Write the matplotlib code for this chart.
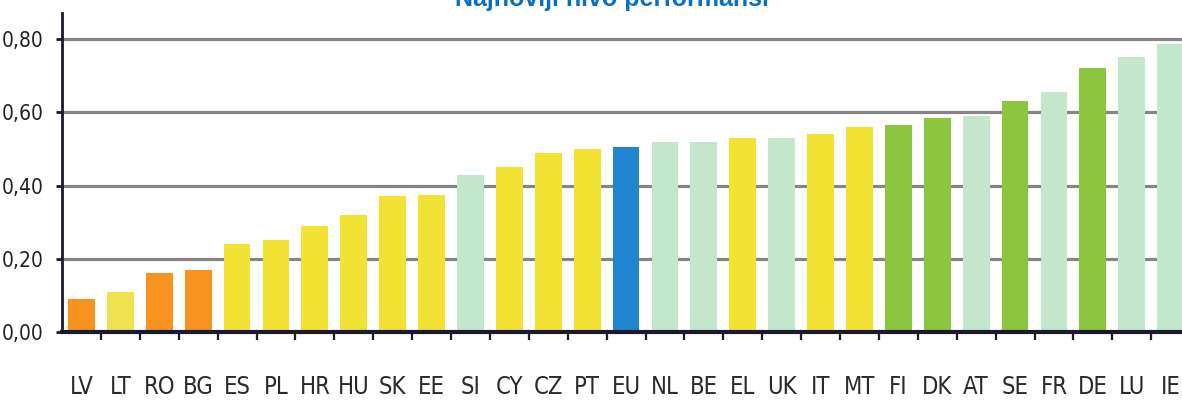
import matplotlib.pyplot as plt
import numpy as np
from matplotlib.ticker import FixedLocator, FuncFormatter

countries = ['LV', 'LT', 'RO', 'BG', 'ES', 'PL', 'HR', 'HU', 'SK', 'EE',
             'SI', 'CY', 'CZ', 'PT', 'EU', 'NL', 'BE', 'EL', 'UK', 'IT',
             'MT', 'FI', 'DK', 'AT', 'SE', 'FR', 'DE', 'LU', 'IE']
scores = [0.09, 0.11, 0.16, 0.17, 0.24, 0.25, 0.29, 0.32, 0.37, 0.375,
          0.43, 0.45, 0.49, 0.50, 0.505, 0.52, 0.52, 0.53, 0.53, 0.54,
          0.56, 0.565, 0.585, 0.59, 0.63, 0.655, 0.72, 0.75, 0.785]
# performance group of each country
groups = ['low', 'mid', 'low', 'low', 'mid', 'mid', 'mid', 'mid', 'mid', 'mid',
          'pale', 'mid', 'mid', 'mid', 'eu', 'pale', 'pale', 'mid', 'pale', 'mid',
          'mid', 'high', 'high', 'pale', 'high', 'pale', 'high', 'pale', 'pale']
yticks = [0.0, 0.2, 0.4, 0.6, 0.8]
title = 'Najnoviji nivo performansi'

group_colors = {'low': '#F7931E', 'mid': '#F2E233', 'pale': '#C4E6CC',
                'eu': '#1F86CF', 'high': '#8CC63F'}
bar_colors = [group_colors[g] for g in groups]
bar_colors[1] = '#EEE24E'  # LT a bit paler

plt.rcParams['font.family'] = ['DejaVu Sans']
plt.rcParams['font.stretch'] = 'condensed'

fig = plt.figure(figsize=(11.82, 4.03), dpi=100)
ax = fig.add_axes([62 / 1182, 1 - 332 / 403, 1 - 62 / 1182, (332 - 13) / 403])

x = np.arange(len(countries))
ax.bar(x, scores, width=0.69, color=bar_colors, zorder=3)

ax.set_xlim(-0.5, -0.5 + (1182 - 62) / 38.9)
ax.set_ylim(0, 0.871)

for yv in yticks[1:]:
    ax.axhline(yv, color='#858585', lw=2.3, zorder=1)

ax.yaxis.set_major_locator(FixedLocator(yticks))
ax.yaxis.set_major_formatter(FuncFormatter(lambda v, p: f'{v:.2f}'.replace('.', ',')))
ax.tick_params(axis='y', length=4, width=2, color='#1a1a2a', pad=9,
               labelsize=15, labelcolor='#222222')

# ticks between categories, labels at centres
ax.set_xticks(x[:-1] + 0.5)
ax.set_xticklabels([])
ax.set_xticks(x, minor=True)
ax.set_xticklabels(countries, minor=True)
ax.tick_params(axis='x', which='major', direction='out', length=6, width=1.6,
               color='#1a1a2a')
ax.tick_params(axis='x', which='minor', length=0, pad=31, labelsize=17,
               labelcolor='#2a2a2a')

for s in ['top', 'right']:
    ax.spines[s].set_visible(False)
ax.spines['left'].set_linewidth(2)
ax.spines['left'].set_color('#1a1a2a')
ax.spines['bottom'].set_linewidth(3)
ax.spines['bottom'].set_color('#1a1a2a')
ax.spines['bottom'].set_zorder(4)

fig.text(612 / 1182, 1 - 6 / 403, title, ha='center', va='baseline',
         color='#0A6FC2', fontsize=18, fontweight='bold', fontstretch='normal',
         family=['Liberation Sans', 'DejaVu Sans'])

plt.savefig('out.png', dpi=100)
